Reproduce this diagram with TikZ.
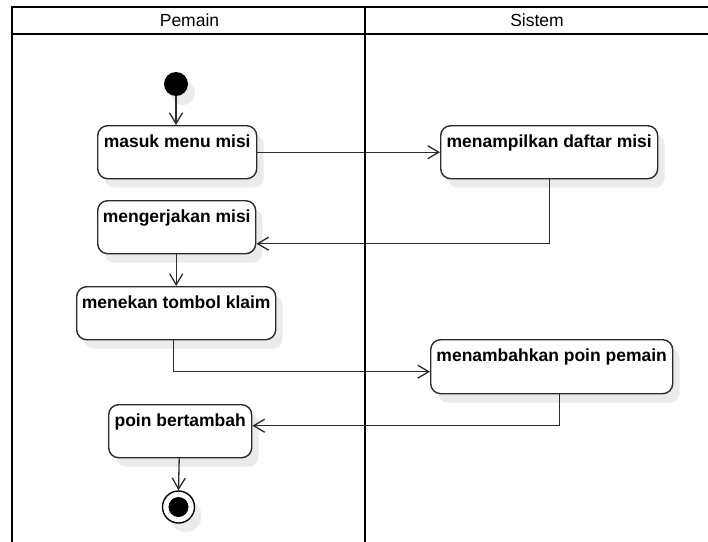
\documentclass[tikz,border=0pt]{standalone}
\usepackage{fontspec}
\setmainfont{Liberation Sans}
\usetikzlibrary{arrows.meta,shadows}

\definecolor{edge}{HTML}{2B2B2B}
\definecolor{shade}{HTML}{EBEBEB}

\tikzset{
  lane/.style={line width=2.4pt,black},
  lanetitle/.style={font=\fontsize{17.5}{19}\selectfont,inner sep=0pt},
  soft/.style={drop shadow={shadow xshift=7pt,shadow yshift=-9pt,fill=shade,opacity=1}},
  action/.style={draw=edge,line width=1.4pt,rounded corners=10pt,fill=white,soft,
    inner sep=0pt,anchor=north west},
  caption/.style={font=\bfseries\fontsize{17.5}{19}\selectfont,inner sep=0pt},
  flow/.style={draw=edge,line width=1.3pt,-{Straight Barb[length=11pt,width=13pt,line width=1.3pt]}},
  startdot/.style={circle,fill=black,minimum size=24pt,inner sep=0pt,soft},
  endring/.style={circle,draw=black,line width=1.4pt,fill=white,minimum size=32pt,inner sep=0pt,soft},
  enddot/.style={circle,fill=black,minimum size=20pt,inner sep=0pt}
}

% action box: name, left, top, width, height, text
\newcommand{\actbox}[6]{%
  \node[action,minimum width=#4pt,minimum height=#5pt] (#1) at (#2,#3) {};
  \node[caption,anchor=base] (#1-t) at ([yshift=-22pt]#1.north) {#6};
}

\begin{document}
\begin{tikzpicture}[x=1pt,y=-1pt]
\useasboundingbox (0,0) rectangle (708,541);
\begin{scope}
\clip (0,0) rectangle (708,541);

% swimlane frame
\draw[lane] (12,7) -- (710,7);
\draw[lane] (12,34) -- (710,34);
\draw[lane] (12,6) -- (12,545);
\draw[lane] (365,6) -- (365,545);
\node[lanetitle] (lane1) at (189.5,20) {Pemain};
\node[lanetitle] (lane2) at (537,20) {Sistem};

% actions
\actbox{masuk}{97}{125}{159}{53}{masuk menu misi}
\actbox{kerja}{97}{200}{158}{53}{mengerjakan misi}
\actbox{tampil}{440}{125}{217}{53}{menampilkan daftar misi}
\actbox{tekan}{76}{286}{199}{53}{menekan tombol klaim}
\actbox{tambah}{430}{339}{242}{54}{menambahkan poin pemain}
\actbox{poin}{108}{404}{143}{53}{poin bertambah}

% initial and final states
\node[startdot] (start) at (176,84) {};
\node[endring] (stop) at (178.5,507) {};
\node[enddot] (stopdot) at (stop.center) {};

% control flow
\draw[flow] (start) -- (start |- masuk.north);
\draw[flow] (masuk.east) -- (tampil.west);
\draw[flow] (tampil.south) |- ([yshift=-16.5pt]kerja.east);
\draw[flow] ([xshift=-0.5pt]kerja.south) -- ([xshift=-0.5pt]kerja.south |- tekan.north);
\draw[flow] ([xshift=-2.5pt]tekan.south) |- ([yshift=-5pt]tambah.west);
\draw[flow] ([xshift=8pt]tambah.south) |- ([yshift=5.5pt]poin.east);
\draw[flow] ([xshift=-1pt]poin.south) -- (stop.north);
\end{scope}
\end{tikzpicture}
\end{document}
